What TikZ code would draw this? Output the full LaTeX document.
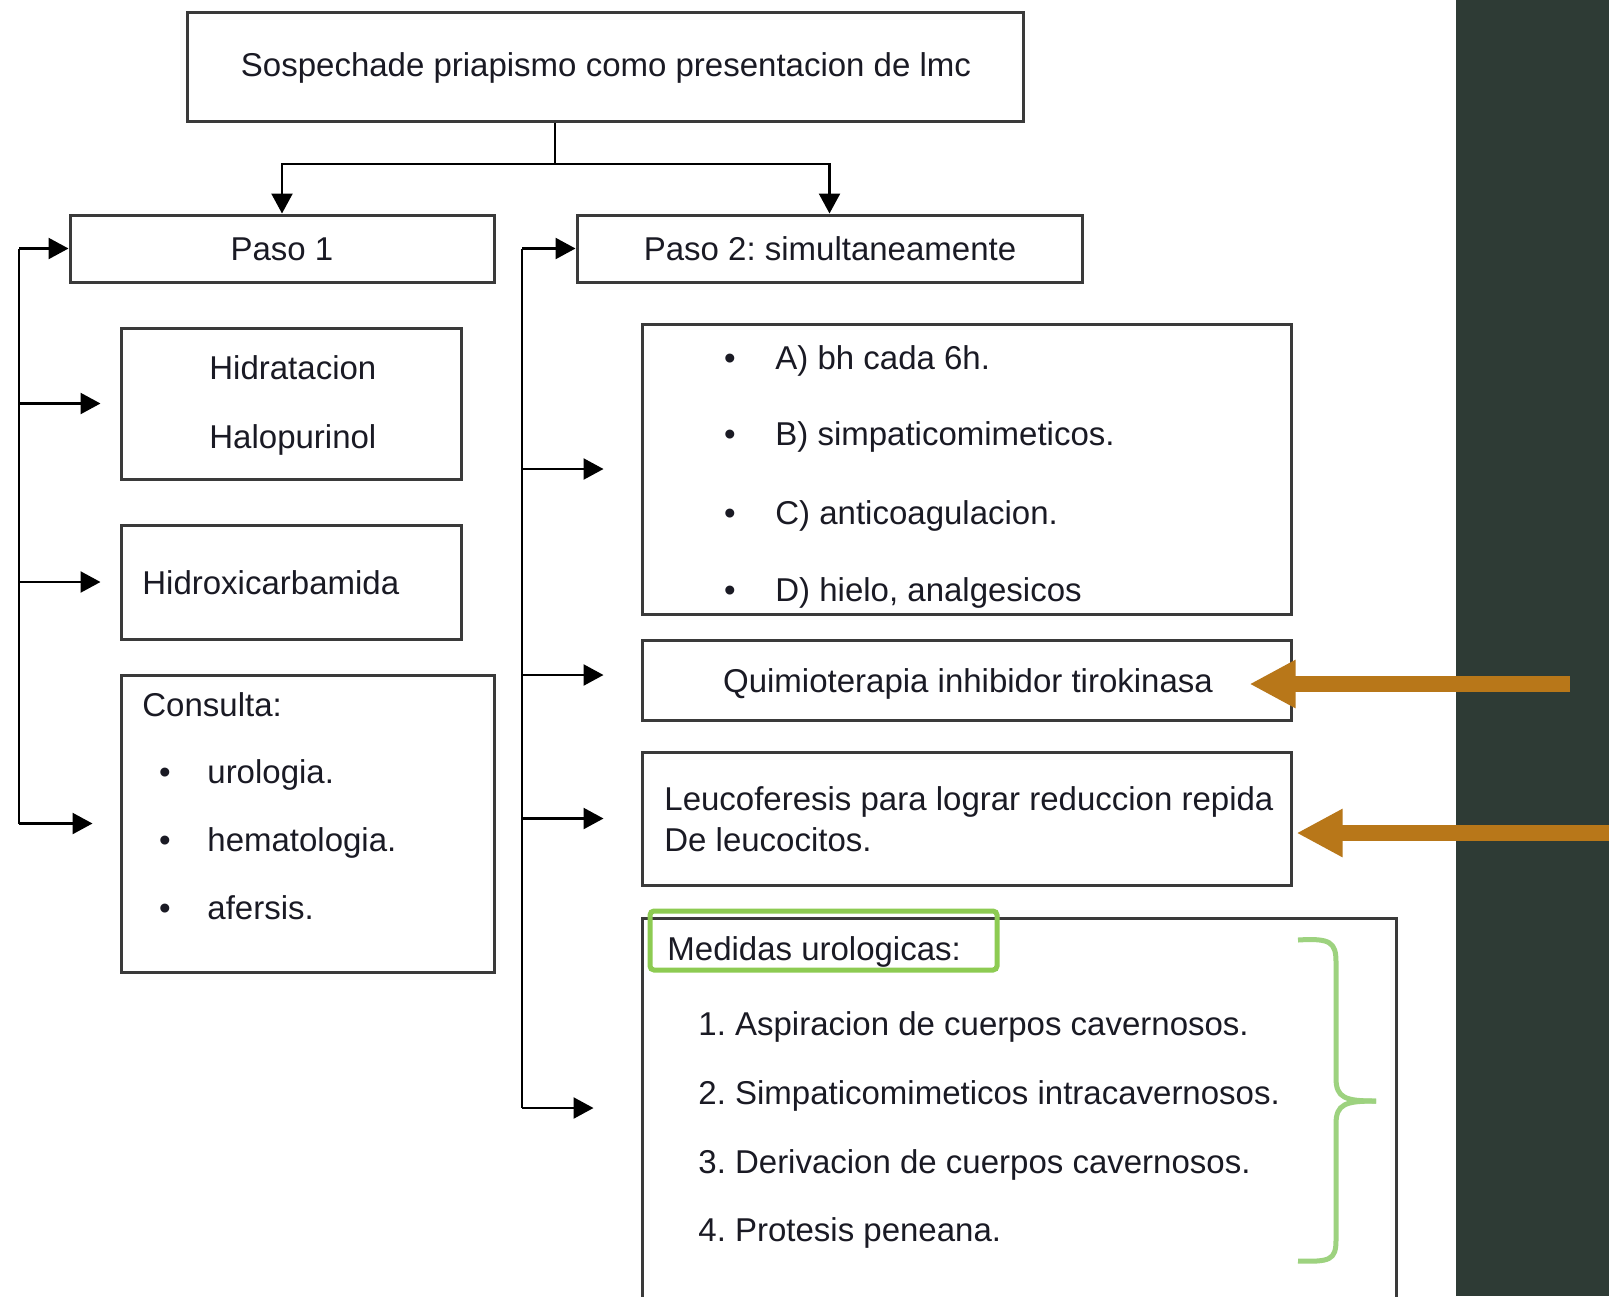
\documentclass[tikz,border=0pt]{standalone}
\usepackage{fontspec}
\setmainfont{Liberation Sans}
\usetikzlibrary{arrows.meta}
\definecolor{panel}{HTML}{2E3B35}
\definecolor{orng}{HTML}{B87719}
\definecolor{hlgreen}{HTML}{8DCB52}
\definecolor{brgreen}{HTML}{9DD27F}
\definecolor{boxline}{HTML}{3A3A3A}
\definecolor{txt}{HTML}{1A1A24}
\frenchspacing
\begin{document}
\frenchspacing
\begin{tikzpicture}[x=0.5pt,y=-0.5pt,
  every node/.style={font=\fontsize{16.5pt}{20pt}\selectfont, text=txt},
  box/.style={draw=boxline, line width=1.5pt, inner sep=0pt, fill=white},
  lbl/.style={anchor=base west, inner sep=0pt},
  clbl/.style={anchor=base, inner sep=0pt},
  conn/.style={draw=black, line width=1.2pt},
  arr/.style={conn, -{Triangle[length=10pt,width=10.5pt]}},
  orarrow/.style={draw=orng, line width=8pt, -{Triangle[length=23pt,width=22.5pt]}},
  hl/.style={draw=hlgreen, line width=2.5pt, rounded corners=2pt},
  bracestyle/.style={draw=brgreen, line width=2.5pt}
]
\useasboundingbox (0,0) rectangle (1609,1296);
\clip (0,0) rectangle (1609,1296);
\fill[white] (0,0) rectangle (1609,1296);
\fill[panel] (1456,0) rectangle (1609,1296);

% boxes
\node[box, minimum width=418pt, minimum height=54.5pt] (top) at (605,66.5) {};
\node[box, minimum width=212pt, minimum height=33.5pt] (paso1) at (282,248.5) {};
\node[box, minimum width=252.5pt, minimum height=33.5pt] (paso2) at (829.5,248.5) {};
\node[box, minimum width=170pt, minimum height=75.5pt] (hid) at (291,403.5) {};
\node[box, minimum width=170pt, minimum height=57pt] (hidx) at (291,582) {};
\node[box, minimum width=186.5pt, minimum height=148.5pt] (cons) at (307.5,823.5) {};
\node[box, minimum width=324.5pt, minimum height=145pt] (bul) at (966.5,469) {};
\node[box, minimum width=324.5pt, minimum height=40pt] (quim) at (966.5,680) {};
\node[box, minimum width=324.5pt, minimum height=66.5pt] (leuco) at (966.5,818.5) {};
\node[box, minimum width=377pt, minimum height=190pt] (med) at (1019,1108) {};

% texts
\node[clbl] (ttop) at (606,76) {Sospechade priapismo como presentacion de lmc};
\node[clbl] (tp1) at (282,260) {Paso 1};
\node[clbl] (tp2) at (830,260) {Paso 2: simultaneamente};
\node[lbl] (thid1) at (209,379) {Hidratacion};
\node[lbl] (thid2) at (209,448) {Halopurinol};
\node[lbl] (thidx) at (142,594) {Hidroxicarbamida};
\node[lbl] (tcons) at (142,716) {Consulta:};
\node[clbl] (bc1) at (165,783) {•};
\node[clbl] (bc2) at (165,851) {•};
\node[clbl] (bc3) at (165,919) {•};
\node[lbl] (tc1) at (207,783) {urologia.};
\node[lbl] (tc2) at (207,851) {hematologia.};
\node[lbl] (tc3) at (207,919) {afersis.};
\node[clbl] (bb1) at (730,369) {•};
\node[clbl] (bb2) at (730,445) {•};
\node[clbl] (bb3) at (730,524) {•};
\node[clbl] (bb4) at (730,601) {•};
\node[lbl] (tb1) at (775,369) {A) bh cada 6h.};
\node[lbl] (tb2) at (775,445) {B) simpaticomimeticos.};
\node[lbl] (tb3) at (775,524) {C) anticoagulacion.};
\node[lbl] (tb4) at (775,601) {D) hielo, analgesicos};
\node[clbl] (tquim) at (968,692) {Quimioterapia inhibidor tirokinasa};
\node[lbl] (tleu1) at (664,810) {Leucoferesis para lograr reduccion repida};
\node[lbl] (tleu2) at (664,851) {De leucocitos.};
\node[lbl] (tmed) at (667,960) {Medidas urologicas:};
\node[lbl] (tm1) at (698,1035) {1. Aspiracion de cuerpos cavernosos.};
\node[lbl] (tm2) at (698,1104) {2. Simpaticomimeticos intracavernosos.};
\node[lbl] (tm3) at (698,1173) {3. Derivacion de cuerpos cavernosos.};
\node[lbl] (tm4) at (698,1241) {4. Protesis peneana.};

% top split
\coordinate (split) at (555,164);
\draw[conn] (top.south -| split) -- (split);
\draw[arr] (split) -| (paso1.north);
\draw[arr] (split) -| (paso2.north);

% left bus
\coordinate (lbt) at (19,248.5);
\coordinate (lbb) at (19,823.5);
\draw[conn] (lbt) -- (lbb);
\draw[arr] (lbt) -- (paso1.west);
\draw[arr, shorten >=9.5pt] (lbt |- hid.west) -- (hid.west);
\draw[arr, shorten >=9.5pt] (lbt |- hidx.west) -- (hidx.west);
\draw[arr, shorten >=13.5pt] (lbb) -- (cons.west);

% right bus
\coordinate (rbt) at (522,248.5);
\coordinate (rbb) at (522,1108);
\coordinate (qa) at (522,675);
\draw[conn] (rbt) -- (rbb);
\draw[arr] (rbt) -- (paso2.west);
\draw[arr, shorten >=18.5pt] (rbt |- bul.west) -- (bul.west);
\draw[arr, shorten >=18.5pt] (qa) -- (qa -| quim.west);
\draw[arr, shorten >=18.5pt] (rbt |- leuco.west) -- (leuco.west);
\draw[arr, shorten >=23.5pt] (rbb) -- (med.west);

% green highlight and brace
\draw[hl] (650,911) rectangle (997,970);
\draw[bracestyle] (1298,940) .. controls (1330,938) and (1336,942) .. (1336,962)
  -- (1336,1078) .. controls (1336,1098) and (1345,1101) .. (1376,1101);
\draw[bracestyle] (1376,1101) .. controls (1345,1101) and (1336,1104) .. (1336,1124)
  -- (1336,1240) .. controls (1336,1260) and (1330,1262) .. (1298,1261);

% orange arrows
\coordinate (o1s) at (1570,684);
\coordinate (o2s) at (1625,833);
\draw[orarrow] (o1s) -- ([xshift=-21.5pt]o1s -| quim.east);
\draw[orarrow] (o2s) -- ([xshift=2pt]o2s -| leuco.east);
\end{tikzpicture}
\end{document}
